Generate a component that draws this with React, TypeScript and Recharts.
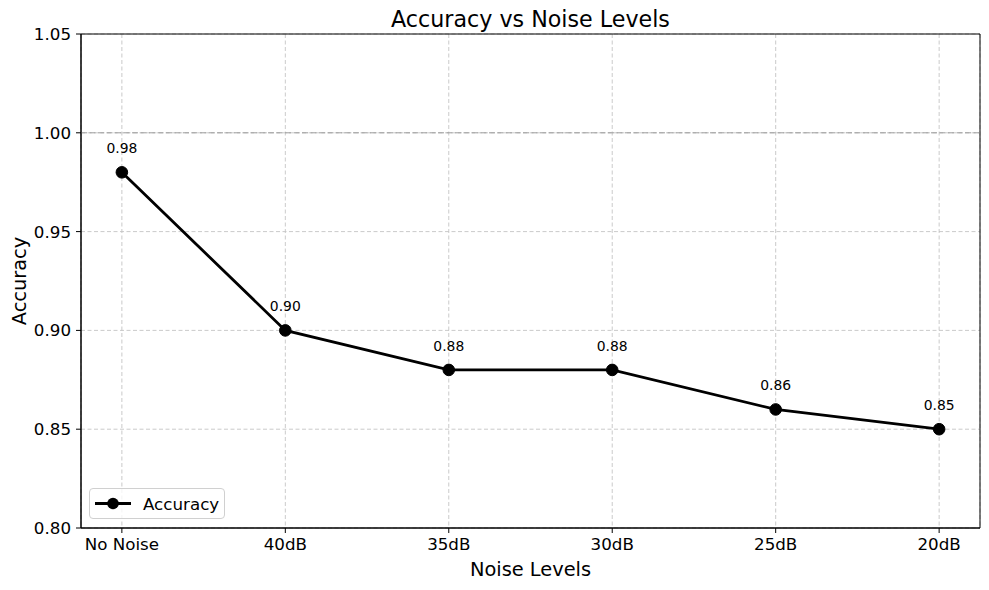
import React from 'react';
import { LineChart, Line, XAxis, YAxis, CartesianGrid, ReferenceLine, ReferenceArea, LabelList } from 'recharts';

const categories = ['No Noise', '40dB', '35dB', '30dB', '25dB', '20dB'];
const accuracy = [0.98, 0.9, 0.88, 0.88, 0.86, 0.85];
const yTicks = [0.8, 0.85, 0.9, 0.95, 1.0, 1.05];

const data = categories.map((c, i) => ({ idx: i, name: c, acc: accuracy[i] }));

const FONT = 'DejaVu Sans, sans-serif';

const AnnLabel = (props: any) => {
  const { x, y, value } = props;
  return (
    <text x={x} y={y - 24} textAnchor="middle" dominantBaseline="central" fontSize={13.9} fontFamily={FONT} fill="#000">
      {Number(value).toFixed(2)}
    </text>
  );
};

export default function App() {
  return (
    <div style={{ position: 'absolute', left: 0, top: 0, width: 989, height: 590, background: '#fff', fontFamily: FONT }}>
      <LineChart width={989} height={590} data={data} margin={{ top: 34, right: 9, bottom: 0, left: 0 }}>
        <CartesianGrid stroke="#c4c4c4" strokeDasharray="4 2.5" strokeWidth={0.9} />
        <XAxis
          dataKey="idx"
          type="number"
          domain={[-0.25, 5.25]}
          ticks={[0, 1, 2, 3, 4, 5]}
          tickFormatter={(v: number) => categories[v]}
          height={62}
          tickSize={5}
          tickMargin={5}
          stroke="#000"
          tick={{ fill: '#000', fontSize: 16.7, fontFamily: FONT }}
          tickLine={{ stroke: '#000' }}
          allowDataOverflow
        />
        <YAxis
          type="number"
          domain={[0.8, 1.05]}
          ticks={yTicks}
          tickFormatter={(v: number) => v.toFixed(2)}
          width={81}
          tickSize={5}
          tickMargin={5}
          stroke="#000"
          tick={{ fill: '#000', fontSize: 16.7, fontFamily: FONT }}
          tickLine={{ stroke: '#000' }}
          allowDataOverflow
        />
        <ReferenceLine y={1.0} stroke="#9c9c9c" strokeDasharray="6 2.5" strokeWidth={1} />
        <ReferenceArea x1={-0.25} x2={5.25} y1={0.8} y2={1.05} fill="none" stroke="#000" strokeWidth={1} />
        <Line
          dataKey="acc"
          stroke="#000"
          strokeWidth={2.8}
          isAnimationActive={false}
          dot={{ r: 5.8, fill: '#000', stroke: '#000', strokeWidth: 1 }}
          activeDot={false}
        >
          <LabelList dataKey="acc" content={<AnnLabel />} />
        </Line>
        <text x={530.5} y={19} textAnchor="middle" dominantBaseline="central" fontSize={22.2} fontFamily={FONT} fill="#000">
          Accuracy vs Noise Levels
        </text>
        <text x={530.5} y={569} textAnchor="middle" dominantBaseline="central" fontSize={19.4} fontFamily={FONT} fill="#000">
          Noise Levels
        </text>
        <text x={19} y={281} textAnchor="middle" dominantBaseline="central" fontSize={19.4} fontFamily={FONT} fill="#000" transform="rotate(-90 19 281)">
          Accuracy
        </text>
      </LineChart>
      <div
        style={{
          position: 'absolute',
          left: 89,
          top: 488,
          width: 136,
          height: 31,
          boxSizing: 'border-box',
          border: '1px solid #d0d0d0',
          borderRadius: 4,
          background: 'rgba(255,255,255,0.8)',
          display: 'flex',
          alignItems: 'center',
        }}
      >
        <svg width={50} height={29} style={{ display: 'block' }}>
          <line x1={5} y1={14.5} x2={41} y2={14.5} stroke="#000" strokeWidth={2.8} />
          <circle cx={23} cy={14.5} r={5.8} fill="#000" />
        </svg>
        <span style={{ fontSize: 16.7, fontFamily: FONT, color: '#000', marginLeft: 3 }}>Accuracy</span>
      </div>
    </div>
  );
}
